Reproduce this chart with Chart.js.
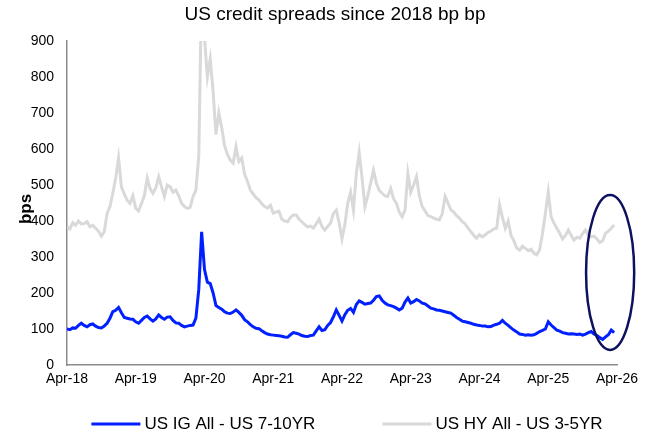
<!DOCTYPE html>
<html lang="en">
<head>
<meta charset="UTF-8">
<title>US credit spreads since 2018</title>
<style>
    html, body { margin: 0; padding: 0; background: #fff; }
    #spreadChart { display: block; }
</style>
</head>
<body>
<canvas id="spreadChart" width="648" height="437"></canvas>
<script src="https://cdn.jsdelivr.net/npm/chart.js"></script>
<script>
    const chartTitle = 'US credit spreads since 2018 bp bp';
    const axisTitle = 'bps';
    const tickLabels = ['Apr-18', 'Apr-19', 'Apr-20', 'Apr-21', 'Apr-22', 'Apr-23', 'Apr-24', 'Apr-25', 'Apr-26'];
    const igLabel = 'US IG All - US 7-10YR';
    const hyLabel = 'US HY All - US 3-5YR';

    // half-monthly readings from 1 Apr 2018, one row per year (Apr..Mar)
    const igSpread = [
        100, 98, 103, 102, 110, 116, 110, 106, 112, 114, 108, 104, 103, 108, 116, 130, 148, 152, 160, 145, 132, 130, 128, 127,
        120, 116, 124, 132, 136, 128, 122, 128, 139, 132, 127, 133, 134, 124, 117, 116, 110, 106, 108, 110, 111, 130, 210, 370,
        265, 230, 226, 200, 165, 160, 155, 148, 144, 143, 147, 153, 146, 138, 126, 120, 112, 106, 102, 101, 95, 90, 86, 84,
        83, 82, 81, 80, 78, 77, 84, 90, 88, 86, 82, 80, 79, 82, 83, 95, 106, 96, 98, 110, 118, 134, 153, 138,
        122, 140, 152, 157, 146, 168, 178, 174, 169, 171, 172, 180, 190, 192, 180, 172, 167, 165, 162, 158, 153, 158, 175, 186,
        172, 176, 182, 178, 172, 170, 164, 158, 156, 153, 152, 150, 148, 146, 144, 138, 132, 127, 122, 120, 118, 116, 113, 111,
        110, 108, 108, 106, 107, 111, 113, 116, 124, 116, 110, 103, 97, 92, 86, 85, 83, 84, 83, 84, 88, 93, 96, 100,
        120, 111, 104, 97, 94, 90, 88, 86, 87, 86, 85, 86, 83, 86, 90, 93, 86, 82, 76, 71, 78, 84, 97, 90
    ];
    const hySpread = [
        385, 378, 395, 388, 400, 392, 393, 398, 384, 388, 380, 372, 358, 370, 421, 440, 477, 520, 575, 495, 475, 458, 449, 470,
        435, 428, 449, 470, 519, 490, 477, 492, 523, 495, 468, 500, 495, 480, 486, 470, 449, 440, 435, 438, 468, 486, 580, 1050,
        910, 800, 850, 760, 640, 700, 660, 610, 585, 569, 561, 606, 565, 575, 530, 510, 486, 475, 465, 458, 448, 440, 436, 444,
        422, 425, 427, 405, 400, 398, 410, 417, 417, 405, 398, 390, 384, 386, 380, 392, 405, 385, 375, 385, 394, 421, 430, 395,
        350, 390, 449, 480, 430, 532, 590, 520, 440, 470, 505, 540, 505, 485, 477, 470, 468, 490, 462, 449, 425, 412, 430, 532,
        480, 500, 523, 470, 440, 428, 415, 412, 408, 405, 403, 420, 468, 450, 431, 425, 415, 408, 398, 392, 380, 370, 360, 352,
        362, 356, 362, 368, 372, 378, 380, 445, 410, 380, 400, 360, 345, 325, 319, 330, 324, 318, 322, 310, 306, 320, 366, 420,
        481, 412, 394, 380, 366, 350, 360, 375, 360, 347, 355, 352, 365, 375, 360, 356, 358, 350, 340, 345, 366, 372, 380, 389
    ];

    // ring around the latest readings (months from Apr-18, bps)
    const ring = { month: 94.8, halfWidth: 4.2, low: 42, high: 472 };

    const FONT = '"Liberation Sans", Arial, sans-serif';
    const toPoints = vals => vals.map((v, i) => ({ x: i / 2, y: v }));

    // title, axis title, legend and the highlight ring drawn straight on the canvas
    const decorations = {
        id: 'decorations',
        afterDatasetsDraw(chart) {
            const { ctx, scales: { x, y } } = chart;
            const cx = x.getPixelForValue(ring.month);
            const rx = x.getPixelForValue(ring.month + ring.halfWidth) - cx;
            const top = y.getPixelForValue(ring.high);
            const bottom = y.getPixelForValue(ring.low);
            ctx.save();
            ctx.beginPath();
            ctx.ellipse(cx, (top + bottom) / 2, rx, (bottom - top) / 2, 0, 0, Math.PI * 2);
            ctx.strokeStyle = '#0d1260';
            ctx.lineWidth = 2.5;
            ctx.stroke();
            ctx.restore();
        },
        afterDraw(chart) {
            const ctx = chart.ctx;
            ctx.save();
            ctx.fillStyle = '#000';
            ctx.textBaseline = 'middle';
            ctx.textAlign = 'center';
            ctx.font = '19px ' + FONT;
            ctx.fillText(chartTitle, 335, 15);

            // rotated y-axis title
            ctx.save();
            ctx.translate(26, 209);
            ctx.rotate(-Math.PI / 2);
            ctx.font = 'bold 17px ' + FONT;
            ctx.fillText(axisTitle, 0, 0);
            ctx.restore();

            // legend: line sample + label per dataset
            ctx.font = '17px ' + FONT;
            ctx.textAlign = 'left';
            const lineLen = 49, textGap = 4, itemGap = 67;
            const items = chart.data.datasets.map(ds => ({ ds, w: ctx.measureText(ds.label).width }));
            const total = items.reduce((s, it) => s + lineLen + textGap + it.w, 0) + itemGap * (items.length - 1);
            let lx = 347 - total / 2;
            const ly = 424;
            items.forEach(({ ds, w }) => {
                ctx.beginPath();
                ctx.moveTo(lx, ly);
                ctx.lineTo(lx + lineLen, ly);
                ctx.strokeStyle = ds.borderColor;
                ctx.lineWidth = ds.borderWidth;
                ctx.stroke();
                ctx.fillText(ds.label, lx + lineLen + textGap, ly);
                lx += lineLen + textGap + w + itemGap;
            });
            ctx.restore();
        }
    };

    const ctx = document.getElementById('spreadChart').getContext('2d');
    const spreadChart = new Chart(ctx, {
        type: 'line',
        data: {
            datasets: [
                {
                    label: igLabel,
                    data: toPoints(igSpread),
                    borderColor: '#0020ff',
                    borderWidth: 3,
                    pointRadius: 0,
                    tension: 0,
                    order: 1
                },
                {
                    label: hyLabel,
                    data: toPoints(hySpread),
                    borderColor: '#d9d9d9',
                    borderWidth: 3,
                    pointRadius: 0,
                    tension: 0,
                    order: 2
                }
            ]
        },
        options: {
            responsive: false,
            animation: false,
            devicePixelRatio: 1,
            layout: { padding: { left: 0, right: 31, top: 41, bottom: 0 } },
            plugins: {
                legend: { display: false },
                title: { display: false },
                tooltip: { enabled: false }
            },
            scales: {
                x: {
                    type: 'linear',
                    min: 0,
                    max: (tickLabels.length - 1) * 12,
                    afterBuildTicks: scale => {
                        scale.ticks = tickLabels.map((_, i) => ({ value: i * 12 }));
                    },
                    afterFit: scale => { scale.height = 72; },
                    grid: { display: false, drawTicks: false },
                    border: { color: '#8c8c8c', width: 1.5 },
                    ticks: {
                        padding: 6,
                        maxRotation: 0,
                        autoSkip: false,
                        color: '#000',
                        font: { family: FONT, size: 14 },
                        callback: value => tickLabels[Math.round(value / 12)]
                    }
                },
                y: {
                    min: 0,
                    max: 900,
                    afterFit: scale => { scale.width = 67; },
                    grid: { display: false, drawTicks: false },
                    border: { color: '#8c8c8c', width: 1.5 },
                    ticks: {
                        stepSize: 100,
                        padding: 13,
                        color: '#000',
                        font: { family: FONT, size: 14 }
                    }
                }
            }
        },
        plugins: [decorations]
    });
</script>
</body>
</html>
